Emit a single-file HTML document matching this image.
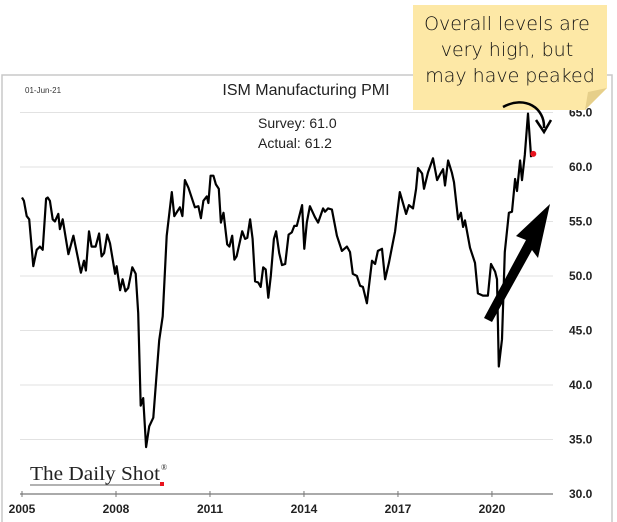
<!DOCTYPE html>
<html><head><meta charset="utf-8"><style>
body{margin:0;background:#fff;width:617px;height:522px;overflow:hidden;position:relative;font-family:"Liberation Sans",sans-serif}
svg{position:absolute;left:0;top:0}
</style></head><body>
<svg id="chart" width="617" height="522">
  <rect x="2" y="75" width="610" height="460" fill="none" stroke="#c8c8c8" stroke-width="1.5"/>
  <g id="grid"></g>
  <g id="xaxis"></g>
  <g id="yaxis"></g>
  <text x="25" y="93" font-size="8" fill="#333">01-Jun-21</text>
  <text x="306" y="95" font-size="16" text-anchor="middle" fill="#222">ISM Manufacturing PMI</text>
  <text x="258" y="128" font-size="14" fill="#222">Survey: 61.0</text>
  <text x="258" y="148" font-size="14" fill="#222">Actual:  61.2</text>
  <path id="line" fill="none" stroke="#000" stroke-width="2.2" stroke-linejoin="round"/>
  <circle id="dot" r="3" fill="#e8141e"/>
  <g>
    <text x="30" y="480" font-family="'Liberation Serif',serif" font-size="20" textLength="130" lengthAdjust="spacingAndGlyphs" fill="#222">The Daily Shot</text>
    <text x="161" y="470" font-family="'Liberation Serif',serif" font-size="8" fill="#222">®</text>
    <line x1="30" y1="485" x2="162" y2="485" stroke="#333" stroke-width="0.8"/>
    <rect x="160" y="482" width="4" height="4" fill="#e8141e"/>
  </g>
  <g>
    <polygon points="484,318 492,322 532,250 538,258 550,204 516,236 526,240" fill="#000"/>
  </g>
  <g>
    <path d="M413,5 H607 V88 L585,110 H413 Z" fill="#fde8a6"/>
    <path d="M607,88 L585,110 L588,92 Z" fill="#e6cf8a"/>
    <text font-family="'DejaVu Sans',sans-serif" font-size="19" font-weight="300" fill="#111" text-anchor="middle">
      <tspan x="510" y="30">Overall levels are</tspan>
      <tspan x="510" y="56">very high, but</tspan>
      <tspan x="510" y="82">may have peaked</tspan>
    </text>
  </g>
  <g>
    <path d="M503,107 C525,95 545,108 544,128" fill="none" stroke="#000" stroke-width="2.5"/>
    <path d="M536,120 L544,132 L551,120" fill="none" stroke="#000" stroke-width="2.5"/>
  </g>
</svg>
<script>
const dates=[2005.0,2005.06,2005.15,2005.23,2005.36,2005.47,2005.57,2005.66,2005.77,2005.82,2005.89,2005.98,2006.05,2006.16,2006.21,2006.30,2006.48,2006.64,2006.88,2006.98,2007.04,2007.14,2007.22,2007.35,2007.46,2007.54,2007.62,2007.72,2007.81,2007.97,2008.02,2008.13,2008.21,2008.30,2008.39,2008.52,2008.63,2008.71,2008.79,2008.87,2008.96,2009.06,2009.19,2009.30,2009.38,2009.49,2009.62,2009.78,2009.86,2010.04,2010.12,2010.20,2010.31,2010.52,2010.63,2010.71,2010.79,2010.90,2010.95,2011.02,2011.11,2011.19,2011.28,2011.35,2011.43,2011.55,2011.62,2011.71,2011.78,2011.85,2012.03,2012.12,2012.19,2012.28,2012.36,2012.44,2012.54,2012.62,2012.70,2012.78,2012.86,2012.94,2013.04,2013.11,2013.21,2013.30,2013.40,2013.51,2013.61,2013.69,2013.77,2013.94,2014.01,2014.09,2014.19,2014.35,2014.45,2014.61,2014.67,2014.77,2014.89,2015.05,2015.21,2015.37,2015.47,2015.56,2015.69,2015.79,2015.88,2016.01,2016.17,2016.27,2016.36,2016.49,2016.59,2016.71,2016.91,2017.06,2017.26,2017.35,2017.48,2017.58,2017.64,2017.77,2017.83,2017.96,2018.12,2018.25,2018.34,2018.44,2018.50,2018.60,2018.72,2018.79,2018.92,2019.01,2019.08,2019.14,2019.30,2019.46,2019.55,2019.71,2019.87,2019.97,2020.10,2020.16,2020.22,2020.32,2020.41,2020.54,2020.64,2020.74,2020.80,2020.90,2020.96,2021.05,2021.15,2021.25];
const values=[57.2,56.9,55.5,55.2,50.9,52.4,52.7,52.4,57.1,57.2,56.9,55.2,55.0,55.7,54.3,55.2,52.0,53.7,50.3,51.4,50.5,54.1,52.7,52.7,53.9,51.8,52.1,53.8,53.0,50.2,50.9,48.7,49.7,48.6,48.9,50.8,50.2,46.6,38.1,38.8,34.3,36.2,37.0,41.1,44.1,46.3,53.7,57.7,55.5,56.3,55.5,58.8,58.1,56.3,56.4,55.3,56.9,57.3,56.7,59.2,59.2,58.4,58.0,54.9,55.8,52.9,52.7,53.7,51.5,51.8,54.1,53.4,53.5,55.2,53.4,49.5,49.4,49.0,50.8,50.6,48.0,50.0,53.4,54.1,52.1,51.0,51.1,53.8,54.0,54.6,54.6,56.5,52.5,54.9,56.4,55.4,54.9,56.2,55.9,56.2,56.1,53.7,52.3,52.7,52.2,50.2,50.0,49.1,49.0,47.5,51.4,51.1,52.3,52.5,49.7,51.2,54.1,57.7,55.7,56.5,56.2,58.0,59.9,59.4,58.0,59.5,60.8,58.8,59.3,59.8,58.3,60.6,59.5,58.6,55.2,55.8,54.5,55.1,52.6,51.2,48.4,48.2,48.2,51.1,50.4,49.7,41.7,44.2,52.2,55.8,55.9,58.9,57.8,60.6,58.8,61.1,64.9,60.9];
const latestDate=[2021.32];
const latestValue=[61.2];
const yTicks=[30,35,40,45,50,55,60,65];
const yTickLabels=["30.0","35.0","40.0","45.0","50.0","55.0","60.0","65.0"];
const xTicks=[2005,2008,2011,2014,2017,2020];
const xTickLabels=["2005","2008","2011","2014","2017","2020"];

function xs(t){return 22+(t-2005)*31.33;}
function ys(v){return 494-(v-30)*10.9;}
const NS="http://www.w3.org/2000/svg";
const grid=document.getElementById('grid'),xa=document.getElementById('xaxis'),ya=document.getElementById('yaxis');
yTicks.forEach((v,i)=>{
  if(v>30){const l=document.createElementNS(NS,'line');
  
  
  l.setAttribute('x1',20);l.setAttribute('x2',553);l.setAttribute('y1',ys(v));l.setAttribute('y2',ys(v));
  l.setAttribute('stroke','#e2e2e2');l.setAttribute('stroke-width','1');grid.appendChild(l);}
  const t=document.createElementNS(NS,'text');
  
  
  t.setAttribute('x',569);t.setAttribute('y',ys(v)+4);t.setAttribute('font-size','12');t.setAttribute('font-weight','bold');t.setAttribute('fill','#222');
  t.textContent=yTickLabels[i];ya.appendChild(t);
});
const ax=document.createElementNS(NS,'line');


ax.setAttribute('x1',20);ax.setAttribute('x2',553);ax.setAttribute('y1',ys(30));ax.setAttribute('y2',ys(30));ax.setAttribute('stroke','#777');ax.setAttribute('stroke-width','1.2');xa.appendChild(ax);
xTicks.forEach((t,i)=>{
  const tk=document.createElementNS(NS,'line');
  
  
  tk.setAttribute('x1',xs(t));tk.setAttribute('x2',xs(t));tk.setAttribute('y1',ys(30)-3);tk.setAttribute('y2',ys(30)+3);tk.setAttribute('stroke','#777');xa.appendChild(tk);
  const tx=document.createElementNS(NS,'text');
  
  
  tx.setAttribute('x',xs(t));tx.setAttribute('y',513);tx.setAttribute('text-anchor','middle');tx.setAttribute('font-size','12');tx.setAttribute('font-weight','bold');tx.setAttribute('fill','#222');
  tx.textContent=xTickLabels[i];xa.appendChild(tx);
});
document.getElementById('line').setAttribute('d',dates.map((d,i)=>(i?'L':'M')+xs(d).toFixed(1)+','+ys(values[i]).toFixed(1)).join(' '));
const dot=document.getElementById('dot');
dot.setAttribute('cx',xs(latestDate[0]));dot.setAttribute('cy',ys(latestValue[0]));
</script>
</body></html>
